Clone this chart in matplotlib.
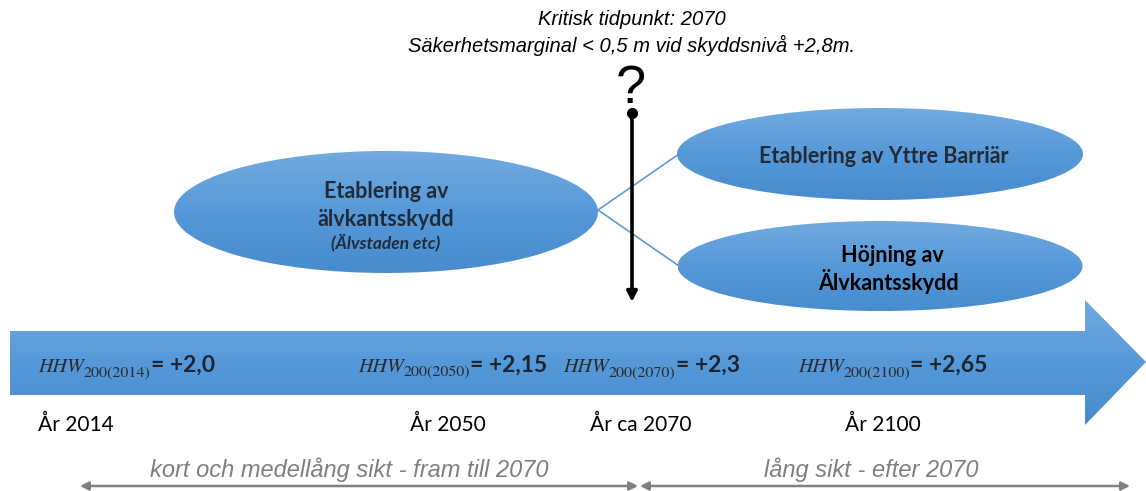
import numpy as np
import matplotlib
matplotlib.use("Agg")
import matplotlib.pyplot as plt
from matplotlib.patches import Polygon, Ellipse
from matplotlib.colors import LinearSegmentedColormap

# ---------------- data ----------------
hhw_years = ["2014", "2050", "2070", "2100"]
hhw_values = ["+2,0", "+2,15", "+2,3", "+2,65"]
year_labels = ["År 2014", "År 2050", "År ca 2070", "År 2100"]
critical_title = "Kritisk tidpunkt: 2070"
critical_note = "Säkerhetsmarginal < 0,5 m vid skyddsnivå +2,8m."
period_labels = ["kort och medellång sikt - fram till 2070", "lång sikt - efter 2070"]
left_bubble = ["Etablering av", "älvkantsskydd", "(Älvstaden etc)"]
top_bubble = "Etablering av Yttre Barriär"
bottom_bubble = ["Höjning av", "Älvkantsskydd"]

# ---------------- layout (pixels) ----------------
hhw_x = [38, 358, 563, 798]
year_x = [38, 410, 590, 845]
W, H = 1146, 491

fig = plt.figure(figsize=(W / 100, H / 100), dpi=100)
ax = fig.add_axes([0, 0, 1, 1])
ax.set_xlim(0, W)
ax.set_ylim(H, 0)
ax.axis("off")

cmap = LinearSegmentedColormap.from_list("blue", ["#72aae0", "#5699d9", "#488bce"])
grad = np.linspace(0, 1, 256).reshape(-1, 1)


def gradient_patch(patch, x0, x1, y0, y1):
    patch.set_facecolor("none")
    patch.set_edgecolor("none")
    ax.add_patch(patch)
    im = ax.imshow(grad, cmap=cmap, extent=(x0, x1, y1, y0), origin="upper",
                   aspect="auto", interpolation="bicubic", zorder=1)
    im.set_clip_path(patch)


# big timeline arrow
arrow_pts = [(10, 331), (1085, 331), (1085, 300), (1146, 362),
             (1085, 425), (1085, 395), (10, 395)]
gradient_patch(Polygon(arrow_pts, closed=True), 10, 1146, 300, 425)

# ellipses
ell_specs = [((386, 212), 424, 122), ((880, 154), 406, 92), ((880, 266), 405, 90)]
for (cx, cy), w, h in ell_specs:
    gradient_patch(Ellipse((cx, cy), w, h), cx - w / 2, cx + w / 2, cy - h / 2, cy + h / 2)

# connector lines
ax.plot([598, 679], [210, 154], color="#5b9bd5", lw=1.2, zorder=2)
ax.plot([598, 679], [210, 266], color="#5b9bd5", lw=1.2, zorder=2)

# critical vertical arrow
ax.annotate("", xy=(632, 302), xytext=(632, 113),
            arrowprops=dict(arrowstyle="-|>,head_length=0.6,head_width=0.3",
                            color="black", lw=2.6, shrinkA=0, shrinkB=0), zorder=5)
ax.plot([632], [113], "o", color="black", ms=7, zorder=6)
ax.text(631, 103, "?", ha="center", va="baseline", fontsize=39,
        family="Liberation Sans", zorder=6)

# top texts
ax.text(632, 25, critical_title, ha="center", va="baseline", fontsize=14.5,
        style="italic", family="Liberation Sans")
ax.text(632, 52, critical_note, ha="center", va="baseline", fontsize=14.5,
        style="italic", family="Liberation Sans")

# bubble texts
dark = "#222b38"
ax.text(386, 198, left_bubble[0], ha="center", va="baseline", fontsize=15.5,
        weight="bold", family="Lato", color=dark, zorder=4)
ax.text(386, 226, left_bubble[1], ha="center", va="baseline", fontsize=15.5,
        weight="bold", family="Lato", color=dark, zorder=4)
ax.text(386, 248, left_bubble[2], ha="center", va="baseline", fontsize=12.5,
        weight="bold", style="italic", family="Lato", color=dark, zorder=4)
ax.text(884, 163, top_bubble, ha="center", va="baseline", fontsize=15.5,
        weight="bold", family="Lato", color=dark, zorder=4)
ax.text(892, 262, bottom_bubble[0], ha="center", va="baseline", fontsize=15.5,
        weight="bold", family="Lato", color="black", zorder=4)
ax.text(888, 290, bottom_bubble[1], ha="center", va="baseline", fontsize=15.5,
        weight="bold", family="Lato", color="black", zorder=4)

# HHW labels on the arrow
base_y = 372
for x, yr, val in zip(hhw_x, hhw_years, hhw_values):
    t1 = ax.text(x, base_y, "HHW", ha="left", va="baseline", fontsize=14.5,
                 family="STIXGeneral", style="italic", color="#2a2a2a", zorder=4)
    t2 = ax.annotate("200(%s)" % yr, xy=(1, base_y + 4), xycoords=(t1, "data"),
                     ha="left", va="baseline", fontsize=11.5, family="STIXGeneral",
                     color="#2a2a2a", zorder=4)
    ax.annotate("= " + val, xy=(1, base_y), xycoords=(t2, "data"), ha="left",
                va="baseline", fontsize=16.5, weight="bold", family="Lato",
                color="#1e2530", zorder=4)

# year labels
for x, lab in zip(year_x, year_labels):
    ax.text(x, 431, lab, ha="left", va="baseline", fontsize=15, family="Lato",
            color="black")

# period arrows
gray = "#7f7f7f"
ax.annotate("", xy=(80, 486), xytext=(638, 486),
            arrowprops=dict(arrowstyle="<|-|>,head_length=0.5,head_width=0.25",
                            color=gray, lw=1.8, shrinkA=0, shrinkB=0))
ax.annotate("", xy=(640, 486), xytext=(1130, 486),
            arrowprops=dict(arrowstyle="<|-|>,head_length=0.5,head_width=0.25",
                            color=gray, lw=1.8, shrinkA=0, shrinkB=0))
ax.text(349, 477, period_labels[0], ha="center", va="baseline", fontsize=17,
        style="italic", family="Liberation Sans", color=gray)
ax.text(871, 477, period_labels[1], ha="center", va="baseline", fontsize=17,
        style="italic", family="Liberation Sans", color=gray)

fig.savefig("out.png", dpi=100)
